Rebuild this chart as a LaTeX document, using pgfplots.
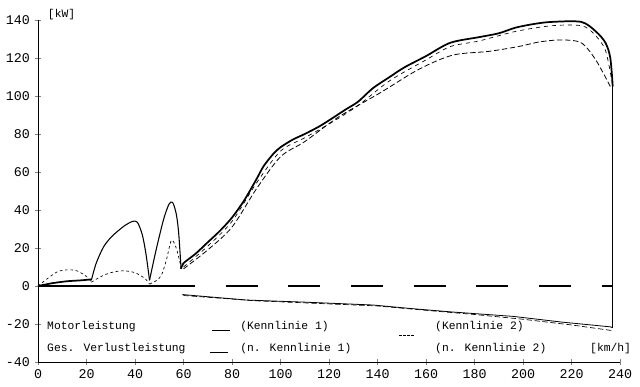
\documentclass[border=0pt]{standalone}
\usepackage{fontspec}
\setmainfont{Liberation Mono}
\usepackage{pgfplots}
\pgfplotsset{compat=1.18}
\begin{document}
\begin{tikzpicture}
\begin{axis}[
  name=ax,
  scale only axis,
  width=436.5pt, height=256.5pt,
  xmin=0, xmax=240, ymin=-40, ymax=140,
  axis x line*=bottom, axis y line*=left,
  xtick={0,20,...,240}, ytick={-40,-20,...,140},
  tick align=center,
  major tick length=5pt,
  /pgf/number format/assume math mode=true,
  tick label style={font=\fontsize{10}{10}\selectfont},
  clip=false,
  every axis plot/.append style={line join=round},
]
% zero lines
\addplot[black, line width=0.9pt] coordinates {(0,0) (60,0)};
\addplot[black, line width=0.9pt, dash pattern=on 24pt off 23pt, dash phase=14.6pt] coordinates {(59.6,0) (237,0)};
% Motorleistung Kennlinie 1 (solid thick)
\addplot[black, line width=1.3pt, smooth, tension=0.4] coordinates {
(0,0) (6,1.5) (12,2.5) (18,3) (22,3.5)};
\addplot[black, line width=0.8pt, smooth, tension=0.5] coordinates {
(22,3) (24,12) (27,20.5) (30,25.5) (33,29) (36,32) (39,34) (41,33.5) (43,27) (44.5,17) (46,3)};
\addplot[black, line width=0.8pt, smooth, tension=0.5] coordinates {
(46,3) (48,15) (50,26) (52,36) (54,43) (55.5,44) (57,38) (58,28) (59,9)};
\addplot[black, line width=1.3pt, smooth, tension=0.5] coordinates {
(59,9) (60,12) (65,17) (70,23) (75,29) (80,36) (85,45) (90,56) (93,63) (97,69.5) (100,73) (105,77) (110,80) (116,84) (121,88) (127,93) (132,97) (138,104) (145,110) (151,115) (160,121) (170,128) (182,131) (190,133) (197,136) (205,138) (212,139) (224,139) (230,134) (234,128) (236,120) (237,105)};
% close to K1, thin dashed
\addplot[black, line width=0.5pt, dashed, smooth, tension=0.5] coordinates {
(60,10) (70,21) (80,34) (90,54) (100,71) (110,78) (121,86) (132,95) (145,108) (160,119) (170,126) (182,129) (197,134) (212,137) (224,137) (229,133) (234,124) (237,105)};
% Kennlinie 2 (dashed)
\addplot[black, line width=0.6pt, dash pattern=on 4pt off 2pt, smooth, tension=0.5] coordinates {
(60,9) (70,19) (80,31) (90,51) (100,68) (110,76) (124,89) (141,101.6) (157,114) (171,121.5) (186,123.5) (198,126) (207,128.5) (216,129.5) (224,128) (230,119) (236,105)};
\addplot[black, line width=0.5pt, dash pattern=on 2pt off 2pt, smooth, tension=0.5] coordinates {
(0,0) (4,4) (8,7.5) (12,8.5) (16,8) (20,5) (22,2)};
\addplot[black, line width=0.5pt, dash pattern=on 2pt off 2pt, smooth, tension=0.5] coordinates {
(22,2) (26,5) (30,7) (35,8) (40,7) (44,4) (46,1)};
\addplot[black, line width=0.5pt, dash pattern=on 2pt off 2pt, smooth, tension=0.5] coordinates {
(46,1) (49,3) (51,6) (53,14) (55,24) (57,20) (59,10)};
% vertical drop
\addplot[black, line width=0.5pt] coordinates {(237,105) (237,-22)};
% Ges. Verlustleistung
\addplot[black, line width=0.6pt] coordinates {
(59.5,-4.5) (86,-7.4) (110,-8.5) (138,-10) (155,-12) (171,-13.7) (196,-16) (216,-19) (236,-21.5) (237,-22)};
\addplot[black, line width=0.5pt, dash pattern=on 4pt off 2pt] coordinates {
(60,-5) (90,-7.8) (140,-10.5) (160,-12.8) (180,-15) (200,-17.5) (220,-20.5) (237,-23.5)};
% labels
\node[anchor=west, font=\fontsize{8.5}{9}\selectfont, inner sep=0pt] at (axis cs:4,143) {[kW]};
\node[anchor=west, font=\fontsize{8.5}{9}\selectfont, inner sep=0pt] at (axis cs:227.6,-33) {[km/h]};
% legend
\node[anchor=west, font=\fontsize{8.5}{9}\selectfont, inner sep=0pt] at (axis cs:3.7,-21.6) {Motorleistung};
\draw[black, line width=0.9pt] (axis cs:71.8,-23.3) -- (axis cs:79.2,-23.3);
\node[anchor=west, font=\fontsize{8.5}{9}\selectfont, inner sep=0pt] at (axis cs:83.3,-21.6) {(Kennlinie 1)};
\draw[black, line width=0.6pt, dash pattern=on 2pt off 1pt] (axis cs:149,-26) -- (axis cs:155,-26);
\node[anchor=west, font=\fontsize{8.5}{9}\selectfont, inner sep=0pt] at (axis cs:163.7,-21.6) {(Kennlinie 2)};
\node[anchor=west, font=\fontsize{8.5}{9}\selectfont, inner sep=0pt] at (axis cs:3.7,-33) {Ges. Verlustleistung};
\draw[black, line width=0.9pt] (axis cs:71,-35) -- (axis cs:78.4,-35);
\node[anchor=west, font=\fontsize{8.5}{9}\selectfont, inner sep=0pt] at (axis cs:83.3,-33) {(n. Kennlinie 1)};
\node[anchor=west, font=\fontsize{8.5}{9}\selectfont, inner sep=0pt] at (axis cs:163.7,-33) {(n. Kennlinie 2)};
\end{axis}
\pgfresetboundingbox
\path ([shift={(-28.5pt,-18.75pt)}]ax.south west) rectangle ([shift={(15pt,15pt)}]ax.north east);
\end{tikzpicture}
\end{document}
